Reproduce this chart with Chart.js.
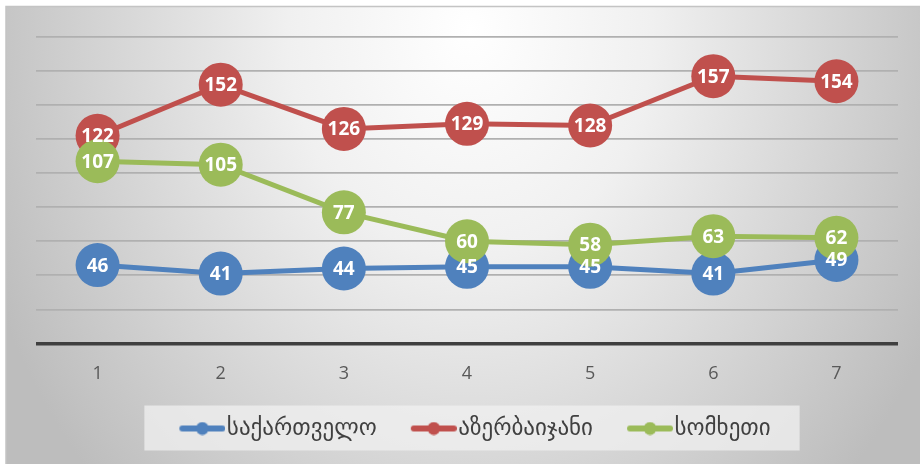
<!DOCTYPE html>
<html>
<head>
<meta charset="utf-8">
<script src="https://cdn.jsdelivr.net/npm/chart.js@4.4.1/dist/chart.umd.min.js"></script>
<style>
    html, body { margin: 0; padding: 0; background: #ffffff; }
    .chart-box { width: 920px; height: 464px; }
</style>
</head>
<body>
<div class="chart-box"><canvas id="chart" width="920" height="464"></canvas></div>
<script>
    // chart values
    const categories = ['1', '2', '3', '4', '5', '6', '7'];
    const seriesNames = ['საქართველო', 'აზერბაიჯანი', 'სომხეთი'];
    const georgia = [46, 41, 44, 45, 45, 41, 49];
    const azerbaijan = [122, 152, 126, 129, 128, 157, 154];
    const armenia = [107, 105, 77, 60, 58, 63, 62];
    const seriesColors = ['#4f81bd', '#c0504d', '#9bbb59'];

    const FONT = "'Open Sans', 'DejaVu Sans', sans-serif";

    // line-with-dot marker for the legend; transparent room on the left
    // so that the marker sits close to its text
    function legendMarker(color) {
        const c = document.createElement('canvas');
        c.width = 70; c.height = 14;
        const g = c.getContext('2d');
        g.strokeStyle = color;
        g.lineWidth = 6;
        g.lineCap = 'round';
        g.beginPath(); g.moveTo(27, 7); g.lineTo(67, 7); g.stroke();
        g.fillStyle = color;
        g.beginPath(); g.arc(47, 7, 6.5, 0, Math.PI * 2); g.fill();
        return c;
    }

    // background gradient + legend panel
    const backdrop = {
        id: 'backdrop',
        beforeDraw(chart) {
            const ctx = chart.ctx;
            const w = chart.width, h = chart.height;
            ctx.save();
            ctx.fillStyle = '#ffffff';
            ctx.fillRect(0, 0, w, h);
            ctx.translate(470, 30);
            ctx.scale(1, 1.25);
            const grad = ctx.createRadialGradient(0, 0, 0, 0, 0, 520);
            grad.addColorStop(0, '#ffffff');
            grad.addColorStop(0.35, '#f0f0f0');
            grad.addColorStop(1, '#bdbdbd');
            ctx.fillStyle = grad;
            ctx.fillRect(6 - 470, (6 - 30) / 1.25, w, h / 1.25);
            ctx.restore();

            ctx.save();
            ctx.strokeStyle = '#c4c4c4';
            ctx.lineWidth = 1.5;
            ctx.beginPath();
            ctx.moveTo(6, h); ctx.lineTo(6, 6.5); ctx.lineTo(w, 6.5);
            ctx.stroke();
            ctx.restore();

            const boxes = chart.legend && chart.legend.legendHitBoxes;
            if (boxes && boxes.length) {
                const left = Math.min(...boxes.map(b => b.left)) - 21;
                const right = Math.max(...boxes.map(b => b.left + b.width)) + 29;
                const mid = boxes[0].top + boxes[0].height / 2;
                ctx.save();
                ctx.fillStyle = 'rgba(240,240,240,0.75)';
                ctx.fillRect(left, mid - 23, right - left, 45);
                ctx.restore();
            }
        }
    };

    // white value labels centred on the markers
    const valueLabels = {
        id: 'valueLabels',
        afterDatasetsDraw(chart) {
            const ctx = chart.ctx;
            ctx.save();
            ctx.fillStyle = '#ffffff';
            ctx.font = `700 19px ${FONT}`;
            ctx.textAlign = 'center';
            ctx.textBaseline = 'middle';
            chart.data.datasets.forEach((ds, i) => {
                const meta = chart.getDatasetMeta(i);
                meta.data.forEach((pt, j) => {
                    ctx.fillText(String(ds.data[j]), pt.x, pt.y + 1);
                });
            });
            ctx.restore();
        }
    };

    const seriesData = [georgia, azerbaijan, armenia];
    const datasets = seriesData.map((vals, i) => ({
        label: seriesNames[i],
        data: vals,
        borderColor: seriesColors[i],
        backgroundColor: seriesColors[i],
        pointBackgroundColor: seriesColors[i],
        pointBorderWidth: 0,
        pointRadius: 22,
        pointHoverRadius: 22,
        pointStyle: 'circle',
        legendImage: legendMarker(seriesColors[i]),
        borderWidth: 5,
        tension: 0,
        clip: false,
        order: 3 - i
    }));

    new Chart(document.getElementById('chart'), {
        type: 'line',
        data: { labels: categories, datasets: datasets },
        options: {
            responsive: false,
            animation: false,
            events: [],
            layout: { padding: { top: 37, left: 36, right: 20, bottom: 14 } },
            scales: {
                x: {
                    offset: true,
                    grid: { display: false },
                    border: { display: false },
                    ticks: { color: '#595959', font: { family: FONT, size: 18 }, padding: 12 }
                },
                y: {
                    min: 0,
                    max: 180,
                    ticks: { display: false, stepSize: 20 },
                    border: { display: false },
                    grid: {
                        drawTicks: false,
                        color: ctx => ctx.tick && ctx.tick.value === 0 ? '#3f3f3f' : '#b0b0b0',
                        lineWidth: ctx => ctx.tick && ctx.tick.value === 0 ? 3.5 : 1.7
                    }
                }
            },
            plugins: {
                tooltip: { enabled: false },
                legend: {
                    position: 'bottom',
                    labels: {
                        usePointStyle: true,
                        pointStyleWidth: 50,
                        padding: 20,
                        color: '#404040',
                        font: { family: FONT, size: 23 },
                        generateLabels(chart) {
                            return chart.data.datasets.map((ds, i) => ({
                                text: ds.label,
                                fillStyle: ds.backgroundColor,
                                strokeStyle: ds.borderColor,
                                lineWidth: 0,
                                pointStyle: ds.legendImage,
                                fontColor: '#404040',
                                hidden: false,
                                datasetIndex: i
                            }));
                        }
                    }
                }
            }
        },
        plugins: [backdrop, valueLabels]
    });
</script>
</body>
</html>
